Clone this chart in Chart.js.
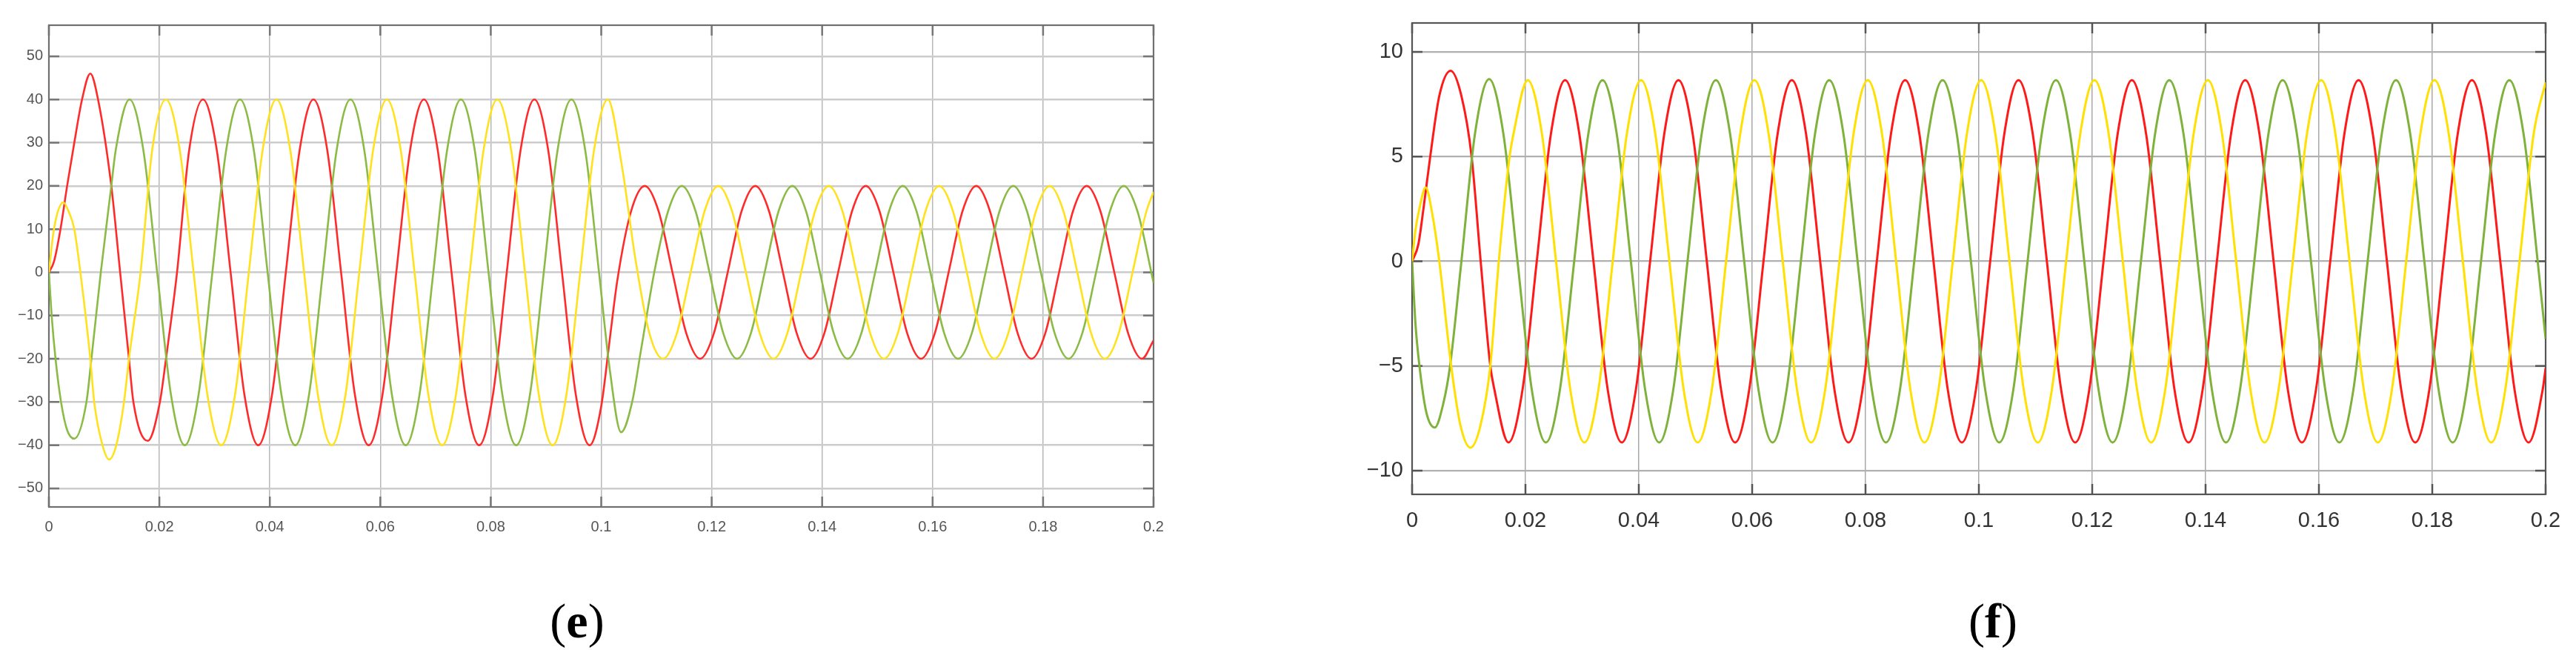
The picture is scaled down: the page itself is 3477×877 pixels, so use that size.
<!DOCTYPE html>
<html><head><meta charset="utf-8">
<script src="https://cdn.jsdelivr.net/npm/chart.js@4"></script>
<style>
html,body{margin:0;padding:0;background:#fff;width:3477px;height:877px;overflow:hidden}
#wa{position:absolute;left:0;top:0;width:1740px;height:877px}
#wb{position:absolute;left:1750px;top:0;width:1727px;height:877px}
.cap{position:absolute;font-family:'Liberation Serif','DejaVu Serif',serif;font-size:66px;line-height:66px;color:#000;transform:translateX(-50%);white-space:nowrap}
.cap b{font-weight:bold}
</style></head><body>
<div id="wa"><canvas id="ca"></canvas></div>
<div id="wb"><canvas id="cb"></canvas></div>
<div class="cap" style="left:779px;top:805px">(<b>e</b>)</div>
<div class="cap" style="left:2690px;top:805px">(<b>f</b>)</div>
<script>
// ---------- tick values / labels ----------
const xTicks = [0,0.02,0.04,0.06,0.08,0.1,0.12,0.14,0.16,0.18,0.2];
const xLabels = ['0','0.02','0.04','0.06','0.08','0.1','0.12','0.14','0.16','0.18','0.2'];
const eYTicks = [-50,-40,-30,-20,-10,0,10,20,30,40,50];
const eYLabels = ['\u221250','\u221240','\u221230','\u221220','\u221210','0','10','20','30','40','50'];
const fYTicks = [-10,-5,0,5,10];
const fYLabels = ['\u221210','\u22125','0','5','10'];

// ---------- chart (e): [time s, value] ----------
const eRed = [[0,0],[0.0009,2.4],[0.0021,10],[0.0033,20],[0.0046,30],[0.0060,40],[0.0075,46],[0.0089,40],[0.0113,20],[0.0129,0],[0.0145,-20],[0.0153,-30],[0.0179,-39],[0.0201,-30],[0.0212,-20],[0.0232,0],[0.0254,28.3],[0.0279,40],
[0.0304,28.3],[0.0329,0],[0.0354,-28.3],[0.0379,-40],[0.0404,-28.3],[0.0429,0],[0.0454,28.3],[0.0479,40],[0.0504,28.3],[0.0529,0],[0.0554,-28.3],[0.0579,-40],[0.0604,-28.3],[0.0629,0],[0.0654,28.3],[0.0679,40],[0.0704,28.3],[0.0729,0],[0.0754,-28.3],[0.0779,-40],[0.0804,-28.3],[0.0829,0],[0.0854,28.3],[0.0879,40],[0.0904,28.3],[0.0929,0],[0.0954,-28.3],[0.0979,-40],
[0.1000,-31],[0.1015,-16],[0.1029,-2],[0.1054,14.1],[0.1079,20],
[0.1104,14.1],[0.1129,0],[0.1154,-14.1],[0.1179,-20],[0.1204,-14.1],[0.1229,0],[0.1254,14.1],[0.1279,20],[0.1304,14.1],[0.1329,0],[0.1354,-14.1],[0.1379,-20],[0.1404,-14.1],[0.1429,0],[0.1454,14.1],[0.1479,20],[0.1504,14.1],[0.1529,0],[0.1554,-14.1],[0.1579,-20],[0.1604,-14.1],[0.1629,0],[0.1654,14.1],[0.1679,20],[0.1704,14.1],[0.1729,0],[0.1754,-14.1],[0.1779,-20],[0.1804,-14.1],[0.1829,0],[0.1854,14.1],[0.1879,20],[0.1904,14.1],[0.1929,0],[0.1954,-14.1],[0.1979,-20],[0.2,-15.8]];

const eGreen = [[0,0],[0.0005,-10],[0.0012,-20],[0.0022,-30],[0.0033,-36.5],[0.0046,-38.5],[0.0068,-30],[0.0077,-20],[0.0094,0],[0.0113,20],[0.0121,28.3],[0.0146,40],
[0.0171,28.3],[0.0196,0],[0.0221,-28.3],[0.0246,-40],[0.0271,-28.3],[0.0296,0],[0.0321,28.3],[0.0346,40],[0.0371,28.3],[0.0396,0],[0.0421,-28.3],[0.0446,-40],[0.0471,-28.3],[0.0496,0],[0.0521,28.3],[0.0546,40],[0.0571,28.3],[0.0596,0],[0.0621,-28.3],[0.0646,-40],[0.0671,-28.3],[0.0696,0],[0.0721,28.3],[0.0746,40],[0.0771,28.3],[0.0796,0],[0.0821,-28.3],[0.0846,-40],[0.0871,-28.3],[0.0896,0],[0.0921,28.3],[0.0946,40],[0.0971,28.3],[0.0996,0],
[0.1016,-23],[0.1036,-37],[0.1056,-30],[0.1072,-18],[0.1096,0],[0.1121,14.1],[0.1146,20],
[0.1171,14.1],[0.1196,0],[0.1221,-14.1],[0.1246,-20],[0.1271,-14.1],[0.1296,0],[0.1321,14.1],[0.1346,20],[0.1371,14.1],[0.1396,0],[0.1421,-14.1],[0.1446,-20],[0.1471,-14.1],[0.1496,0],[0.1521,14.1],[0.1546,20],[0.1571,14.1],[0.1596,0],[0.1621,-14.1],[0.1646,-20],[0.1671,-14.1],[0.1696,0],[0.1721,14.1],[0.1746,20],[0.1771,14.1],[0.1796,0],[0.1821,-14.1],[0.1846,-20],[0.1871,-14.1],[0.1896,0],[0.1921,14.1],[0.1946,20],[0.1971,14.1],[0.1996,0],[0.2,-2.5]];

const eYellow = [[0,0],[0.0008,9],[0.0016,14],[0.0026,16.2],[0.0036,14],[0.0046,10],[0.0057,0],[0.0075,-20],[0.0082,-30],[0.0097,-40],[0.0109,-43.3],[0.0122,-40],[0.0136,-30],[0.0145,-20],[0.0166,0],[0.0187,28.3],[0.0212,40],
[0.0237,28.3],[0.0262,0],[0.0287,-28.3],[0.0312,-40],[0.0337,-28.3],[0.0362,0],[0.0387,28.3],[0.0412,40],[0.0437,28.3],[0.0462,0],[0.0487,-28.3],[0.0512,-40],[0.0537,-28.3],[0.0562,0],[0.0587,28.3],[0.0612,40],[0.0637,28.3],[0.0662,0],[0.0687,-28.3],[0.0712,-40],[0.0737,-28.3],[0.0762,0],[0.0787,28.3],[0.0812,40],[0.0837,28.3],[0.0862,0],[0.0887,-28.3],[0.0912,-40],[0.0937,-28.3],[0.0962,0],[0.0987,28.3],[0.1012,40],
[0.1037,25],[0.1062,3],[0.1087,-14],[0.1112,-20],
[0.1137,-14.1],[0.1162,0],[0.1187,14.1],[0.1212,20],[0.1237,14.1],[0.1262,0],[0.1287,-14.1],[0.1312,-20],[0.1337,-14.1],[0.1362,0],[0.1387,14.1],[0.1412,20],[0.1437,14.1],[0.1462,0],[0.1487,-14.1],[0.1512,-20],[0.1537,-14.1],[0.1562,0],[0.1587,14.1],[0.1612,20],[0.1637,14.1],[0.1662,0],[0.1687,-14.1],[0.1712,-20],[0.1737,-14.1],[0.1762,0],[0.1787,14.1],[0.1812,20],[0.1837,14.1],[0.1862,0],[0.1887,-14.1],[0.1912,-20],[0.1937,-14.1],[0.1962,0],[0.1987,14.1],[0.2,18.6]];

// ---------- chart (f) ----------
const fRed = [[0,0],[0.0011,0.8],[0.0020,2.5],[0.0032,5],[0.0048,7.9],[0.0068,9.1],[0.0087,7.9],[0.0105,5],[0.0121,0],[0.0138,-5],[0.0145,-6.1],[0.0170,-8.65],[0.0195,-6.1],[0.0220,0],[0.0245,6.1],[0.0270,8.65],
[0.0295,6.1],[0.0320,0],[0.0345,-6.1],[0.0370,-8.65],[0.0395,-6.1],[0.0420,0],[0.0445,6.1],[0.0470,8.65],[0.0495,6.1],[0.0520,0],[0.0545,-6.1],[0.0570,-8.65],[0.0595,-6.1],[0.0620,0],[0.0645,6.1],[0.0670,8.65],[0.0695,6.1],[0.0720,0],[0.0745,-6.1],[0.0770,-8.65],[0.0795,-6.1],[0.0820,0],[0.0845,6.1],[0.0870,8.65],[0.0895,6.1],[0.0920,0],[0.0945,-6.1],[0.0970,-8.65],[0.0995,-6.1],[0.1020,0],[0.1045,6.1],[0.1070,8.65],[0.1095,6.1],[0.1120,0],[0.1145,-6.1],[0.1170,-8.65],[0.1195,-6.1],[0.1220,0],[0.1245,6.1],[0.1270,8.65],[0.1295,6.1],[0.1320,0],[0.1345,-6.1],[0.1370,-8.65],[0.1395,-6.1],[0.1420,0],[0.1445,6.1],[0.1470,8.65],[0.1495,6.1],[0.1520,0],[0.1545,-6.1],[0.1570,-8.65],[0.1595,-6.1],[0.1620,0],[0.1645,6.1],[0.1670,8.65],[0.1695,6.1],[0.1720,0],[0.1745,-6.1],[0.1770,-8.65],[0.1795,-6.1],[0.1820,0],[0.1845,6.1],[0.1870,8.65],[0.1895,6.1],[0.1920,0],[0.1945,-6.1],[0.1970,-8.65],[0.1995,-6.1],[0.2,-5.1]];

const fGreen = [[0,0],[0.0006,-3],[0.0013,-5],[0.0025,-7.2],[0.0040,-7.94],[0.0055,-6.8],[0.0067,-5],[0.0087,0],[0.0111,6.1],[0.0136,8.7],
[0.0161,6.1],[0.0186,0],[0.0211,-6.1],[0.0236,-8.65],[0.0261,-6.1],[0.0286,0],[0.0311,6.1],[0.0336,8.65],[0.0361,6.1],[0.0386,0],[0.0411,-6.1],[0.0436,-8.65],[0.0461,-6.1],[0.0486,0],[0.0511,6.1],[0.0536,8.65],[0.0561,6.1],[0.0586,0],[0.0611,-6.1],[0.0636,-8.65],[0.0661,-6.1],[0.0686,0],[0.0711,6.1],[0.0736,8.65],[0.0761,6.1],[0.0786,0],[0.0811,-6.1],[0.0836,-8.65],[0.0861,-6.1],[0.0886,0],[0.0911,6.1],[0.0936,8.65],[0.0961,6.1],[0.0986,0],[0.1011,-6.1],[0.1036,-8.65],[0.1061,-6.1],[0.1086,0],[0.1111,6.1],[0.1136,8.65],[0.1161,6.1],[0.1186,0],[0.1211,-6.1],[0.1236,-8.65],[0.1261,-6.1],[0.1286,0],[0.1311,6.1],[0.1336,8.65],[0.1361,6.1],[0.1386,0],[0.1411,-6.1],[0.1436,-8.65],[0.1461,-6.1],[0.1486,0],[0.1511,6.1],[0.1536,8.65],[0.1561,6.1],[0.1586,0],[0.1611,-6.1],[0.1636,-8.65],[0.1661,-6.1],[0.1686,0],[0.1711,6.1],[0.1736,8.65],[0.1761,6.1],[0.1786,0],[0.1811,-6.1],[0.1836,-8.65],[0.1861,-6.1],[0.1886,0],[0.1911,6.1],[0.1936,8.65],[0.1961,6.1],[0.1986,0],[0.2,-3.7]];

const fYellow = [[0,0],[0.0006,1.5],[0.0012,2.4],[0.0024,3.52],[0.0036,2.2],[0.0048,0],[0.0069,-5],[0.0085,-7.8],[0.0103,-8.9],[0.0121,-7.8],[0.0138,-5],[0.0153,0],[0.0172,5],[0.0179,6.1],[0.0204,8.65],
[0.0229,6.1],[0.0254,0],[0.0279,-6.1],[0.0304,-8.65],[0.0329,-6.1],[0.0354,0],[0.0379,6.1],[0.0404,8.65],[0.0429,6.1],[0.0454,0],[0.0479,-6.1],[0.0504,-8.65],[0.0529,-6.1],[0.0554,0],[0.0579,6.1],[0.0604,8.65],[0.0629,6.1],[0.0654,0],[0.0679,-6.1],[0.0704,-8.65],[0.0729,-6.1],[0.0754,0],[0.0779,6.1],[0.0804,8.65],[0.0829,6.1],[0.0854,0],[0.0879,-6.1],[0.0904,-8.65],[0.0929,-6.1],[0.0954,0],[0.0979,6.1],[0.1004,8.65],[0.1029,6.1],[0.1054,0],[0.1079,-6.1],[0.1104,-8.65],[0.1129,-6.1],[0.1154,0],[0.1179,6.1],[0.1204,8.65],[0.1229,6.1],[0.1254,0],[0.1279,-6.1],[0.1304,-8.65],[0.1329,-6.1],[0.1354,0],[0.1379,6.1],[0.1404,8.65],[0.1429,6.1],[0.1454,0],[0.1479,-6.1],[0.1504,-8.65],[0.1529,-6.1],[0.1554,0],[0.1579,6.1],[0.1604,8.65],[0.1629,6.1],[0.1654,0],[0.1679,-6.1],[0.1704,-8.65],[0.1729,-6.1],[0.1754,0],[0.1779,6.1],[0.1804,8.65],[0.1829,6.1],[0.1854,0],[0.1879,-6.1],[0.1904,-8.65],[0.1929,-6.1],[0.1954,0],[0.1979,6.1],[0.2,8.55]];

// ---------- drawing ----------
const boxPlugin = {
  id: 'mbox',
  beforeDatasetsDraw(chart, args, o) {
    const ctx = chart.ctx, a = chart.chartArea, x = chart.scales.x, y = chart.scales.y;
    ctx.save();
    ctx.strokeStyle = o.tickColor; ctx.lineWidth = o.tickWidth;
    ctx.beginPath();
    y.ticks.forEach(t => { const p = y.getPixelForValue(t.value);
      ctx.moveTo(a.left, p); ctx.lineTo(a.left + o.len, p);
      ctx.moveTo(a.right, p); ctx.lineTo(a.right - o.len, p); });
    x.ticks.forEach(t => { const p = x.getPixelForValue(t.value);
      ctx.moveTo(p, a.bottom); ctx.lineTo(p, a.bottom - o.len);
      ctx.moveTo(p, a.top); ctx.lineTo(p, a.top + o.len); });
    ctx.stroke();
    ctx.strokeStyle = o.boxColor; ctx.lineWidth = o.boxWidth;
    ctx.strokeRect(a.left, a.top, a.right - a.left, a.bottom - a.top);
    ctx.restore();
  }
};

function makeChart(id, c) {
  const toXY = arr => arr.map(p => ({x: p[0], y: p[1]}));
  new Chart(document.getElementById(id), {
    type: 'line',
    data: { datasets: c.series.map(s => ({
      data: toXY(s.data), borderColor: s.color, borderWidth: c.lw,
      pointRadius: 0, fill: false, cubicInterpolationMode: 'monotone' })) },
    options: {
      animation: false, responsive: true, maintainAspectRatio: false, events: [],
      layout: { padding: { left: 0, top: c.padTop, right: c.padRight, bottom: 0 } },
      plugins: { legend: { display: false }, tooltip: { enabled: false },
        mbox: { tickColor: c.tickColor, tickWidth: c.tickWidth, len: c.tickLen, boxColor: c.boxColor, boxWidth: c.boxWidth } },
      scales: {
        x: { type: 'linear', min: 0, max: 0.2,
          afterFit(s) { s.height = c.xH; },
          afterBuildTicks(s) { s.ticks = xTicks.map(v => ({value: v})); },
          ticks: { autoSkip: false, maxRotation: 0, padding: c.xPad, color: c.labelColor,
            font: { family: 'Liberation Sans', size: c.fs }, callback: (v, i) => xLabels[i] },
          grid: { color: c.vGrid, lineWidth: c.vGridW, drawTicks: false },
          border: { display: false } },
        y: { type: 'linear', min: c.yMin, max: c.yMax,
          afterFit(s) { s.width = c.yW; },
          afterBuildTicks(s) { s.ticks = c.yTicks.map(v => ({value: v})); },
          ticks: { autoSkip: false, padding: c.yPad, color: c.labelColor,
            font: { family: 'Liberation Sans', size: c.fs }, callback: (v, i) => c.yLabels[i] },
          grid: { color: c.hGrid, lineWidth: c.hGridW, drawTicks: false },
          border: { display: false } }
      }
    },
    plugins: [boxPlugin]
  });
}

makeChart('ca', {
  series: [{data: eYellow, color: '#ffe21c'}, {data: eGreen, color: '#8bbb44'}, {data: eRed, color: '#ff2a2a'}],
  lw: 2.6, padTop: 34, padRight: 183, xH: 193, yW: 66,
  yMin: -54.3, yMax: 57.2, yTicks: eYTicks, yLabels: eYLabels,
  fs: 20, xPad: 15, yPad: 8, labelColor: '#555555',
  vGrid: '#b8b8b8', vGridW: 1.5, hGrid: '#cccccc', hGridW: 2.5,
  tickColor: '#777777', tickWidth: 2.5, tickLen: 14, boxColor: '#707070', boxWidth: 2.2
});

makeChart('cb', {
  series: [{data: fYellow, color: '#ffe000'}, {data: fGreen, color: '#7fb23a'}, {data: fRed, color: '#ff1a1a'}],
  lw: 3, padTop: 31, padRight: 41, xH: 210, yW: 156,
  yMin: -11.13, yMax: 11.38, yTicks: fYTicks, yLabels: fYLabels,
  fs: 29, xPad: 19, yPad: 12, labelColor: '#333333',
  vGrid: '#a8a8a8', vGridW: 1.5, hGrid: '#b0b0b0', hGridW: 2.2,
  tickColor: '#555555', tickWidth: 2.5, tickLen: 14, boxColor: '#555555', boxWidth: 2.2
});
</script>
</body></html>
